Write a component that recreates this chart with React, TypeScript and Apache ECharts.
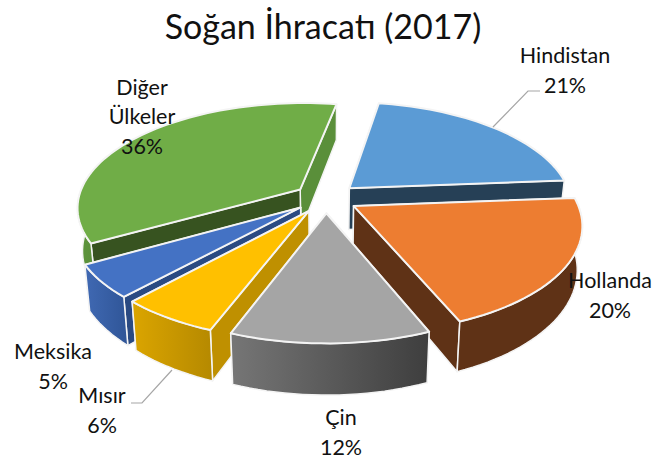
import React, { useEffect, useRef } from "react";
import * as echarts from "echarts";

const titleText = "Soğan İhracatı (2017)";
const categories = ["Hindistan", "Hollanda", "Çin", "Mısır", "Meksika", "Diğer Ülkeler"];
const values = [21, 20, 12, 6, 5, 36];
const labelNames = ["Hindistan", "Hollanda", "Çin", "Mısır", "Meksika", "Diğer\nÜlkeler"];
const drawOrder = [0, 5, 4, 3, 1, 2];

const topColors = ["#5B9BD5", "#ED7D31", "#A5A5A5", "#FFC000", "#4472C4", "#70AD47"];
const startWall = ["#264056", "#5F3216", "#3F3F3F", "#BF9000", "#2A4A82", "#375320"];
const endWall = ["#264056", "#5F3216", "#6B6B6B", "#BF9000", "#2F5597", "#5A8F3A"];
const arcFrom = ["#2E5F8C", "#5F3216", "#767676", "#DBA500", "#4069B3", "#5E963C"];
const arcTo = ["#264056", "#5F3216", "#3E3E3E", "#B58900", "#2F5597", "#5A8F3A"];

const labelSpots: [number, number][] = [
  [565, 70],
  [610, 295],
  [341, 432],
  [102, 410],
  [53, 366],
  [142, 116],
];

const startAngle = 10;
const CX = 326;
const CY = 198;
const RADIUS = 222;
const EXPLODE = 32;
const TILT = 0.465;
const CAMERA = 1353;
const DEPTH = 42;
const BOTTOM_SHRINK = 0.98;
const LINE_GAP = 29.5;

const rad = (d: number) => (d * Math.PI) / 180;

function project(X: number, Y: number, lower: boolean): number[] {
  const s = 1 / (1 - Y / CAMERA);
  const f = lower ? BOTTOM_SHRINK : 1;
  return [CX + X * s * f, CY + Y * TILT * s + (lower ? DEPTH * s : 0)];
}

function renderSlice(params: any, api: any) {
  const index = api.value(1);
  let before = 0;
  const total = values.reduce((a, b) => a + b, 0);
  for (let i = 0; i < index; i++) before += values[i];
  const a0 = startAngle + (before / total) * 360;
  const a1 = a0 + (api.value(0) / total) * 360;
  const mid = rad((a0 + a1) / 2);
  const ox = Math.sin(mid) * EXPLODE;
  const oy = -Math.cos(mid) * EXPLODE;
  const steps = Math.ceil((a1 - a0) / 2);
  const rimTop: number[][] = [];
  const arcUpper: number[][] = [];
  const arcLower: number[][] = [];
  let firstBottom: number[] = [];
  let lastBottom: number[] = [];
  let firstY = 0;
  let lastY = 0;
  for (let i = 0; i <= steps; i++) {
    const deg = a0 + ((a1 - a0) * i) / steps;
    const a = rad(deg);
    const X = ox + Math.sin(a) * RADIUS;
    const Y = oy - Math.cos(a) * RADIUS;
    const top = project(X, Y, false);
    const bottom = project(X, Y, true);
    rimTop.push(top);
    if (i === 0) {
      firstBottom = bottom;
      firstY = Y;
    }
    lastBottom = bottom;
    lastY = Y;
    if (deg > 86 && deg < 274) {
      arcUpper.push(top);
      arcLower.push(bottom);
    }
  }
  const tipTop = project(ox, oy, false);
  const tipBottom = project(ox, oy, true);
  const white = { stroke: "#F4F4F4", lineWidth: 1.5, lineJoin: "round" };
  const faces: any[] = [
    { y: (oy + firstY) / 2, points: [tipTop, rimTop[0], firstBottom, tipBottom], fill: startWall[index] },
    { y: (oy + lastY) / 2, points: [tipTop, rimTop[steps], lastBottom, tipBottom], fill: endWall[index] },
  ];
  if (arcUpper.length > 1) {
    faces.push({
      y: 10000,
      points: [...arcUpper, ...arcLower.slice().reverse()],
      fill: new echarts.graphic.LinearGradient(0, 0, 1, 0, [
        { offset: 0, color: arcFrom[index] },
        { offset: 1, color: arcTo[index] },
      ]),
    });
  }
  faces.sort((p, q) => p.y - q.y);
  const children: any[] = faces.map((f) => ({
    type: "polygon",
    shape: { points: f.points },
    style: { fill: f.fill, ...white },
  }));
  children.push({
    type: "polygon",
    shape: { points: [tipTop, ...rimTop] },
    style: { fill: topColors[index], ...white, lineWidth: 2 },
  });
  return { type: "group", children };
}

export default function App() {
  const ref = useRef<HTMLDivElement>(null);
  useEffect(() => {
    document.body.style.margin = "0";
    const chart = echarts.init(ref.current!, null, { renderer: "svg" });
    const labelFont = { fontFamily: "Lato, sans-serif", fontSize: 21.5, fill: "#111", align: "center", verticalAlign: "middle", lineHeight: 20 };
    const labelLines = values.flatMap((v, i) => {
      const lines = `${labelNames[i]}\n${v}%`.split("\n");
      return lines.map((line, n) => ({
        type: "text",
        z: 30,
        x: labelSpots[i][0],
        y: labelSpots[i][1] + (n - (lines.length - 1) / 2) * LINE_GAP,
        style: { text: line, ...labelFont },
      }));
    });
    chart.setOption({
      animation: false,
      backgroundColor: "#fff",
      title: {
        text: titleText,
        left: 318,
        top: 3,
        textAlign: "center",
        textStyle: { fontFamily: "Lato, sans-serif", fontSize: 34, fontWeight: "normal", color: "#111" },
      },
      series: [
        {
          type: "custom",
          coordinateSystem: "none",
          renderItem: renderSlice,
          data: drawOrder.map((i) => ({ name: categories[i], value: [values[i], i] })),
          silent: true,
        },
      ],
      graphic: [
        { type: "polyline", z: 20, shape: { points: [[493, 127], [528, 91], [540, 91]] }, style: { stroke: "#A6A6A6", lineWidth: 1.2, fill: "none" } },
        { type: "polyline", z: 20, shape: { points: [[172, 370], [142, 403], [131, 403]] }, style: { stroke: "#A6A6A6", lineWidth: 1.2, fill: "none" } },
        ...labelLines,
      ],
    });
    return () => chart.dispose();
  }, []);
  return <div ref={ref} style={{ width: 670, height: 459 }} />;
}
